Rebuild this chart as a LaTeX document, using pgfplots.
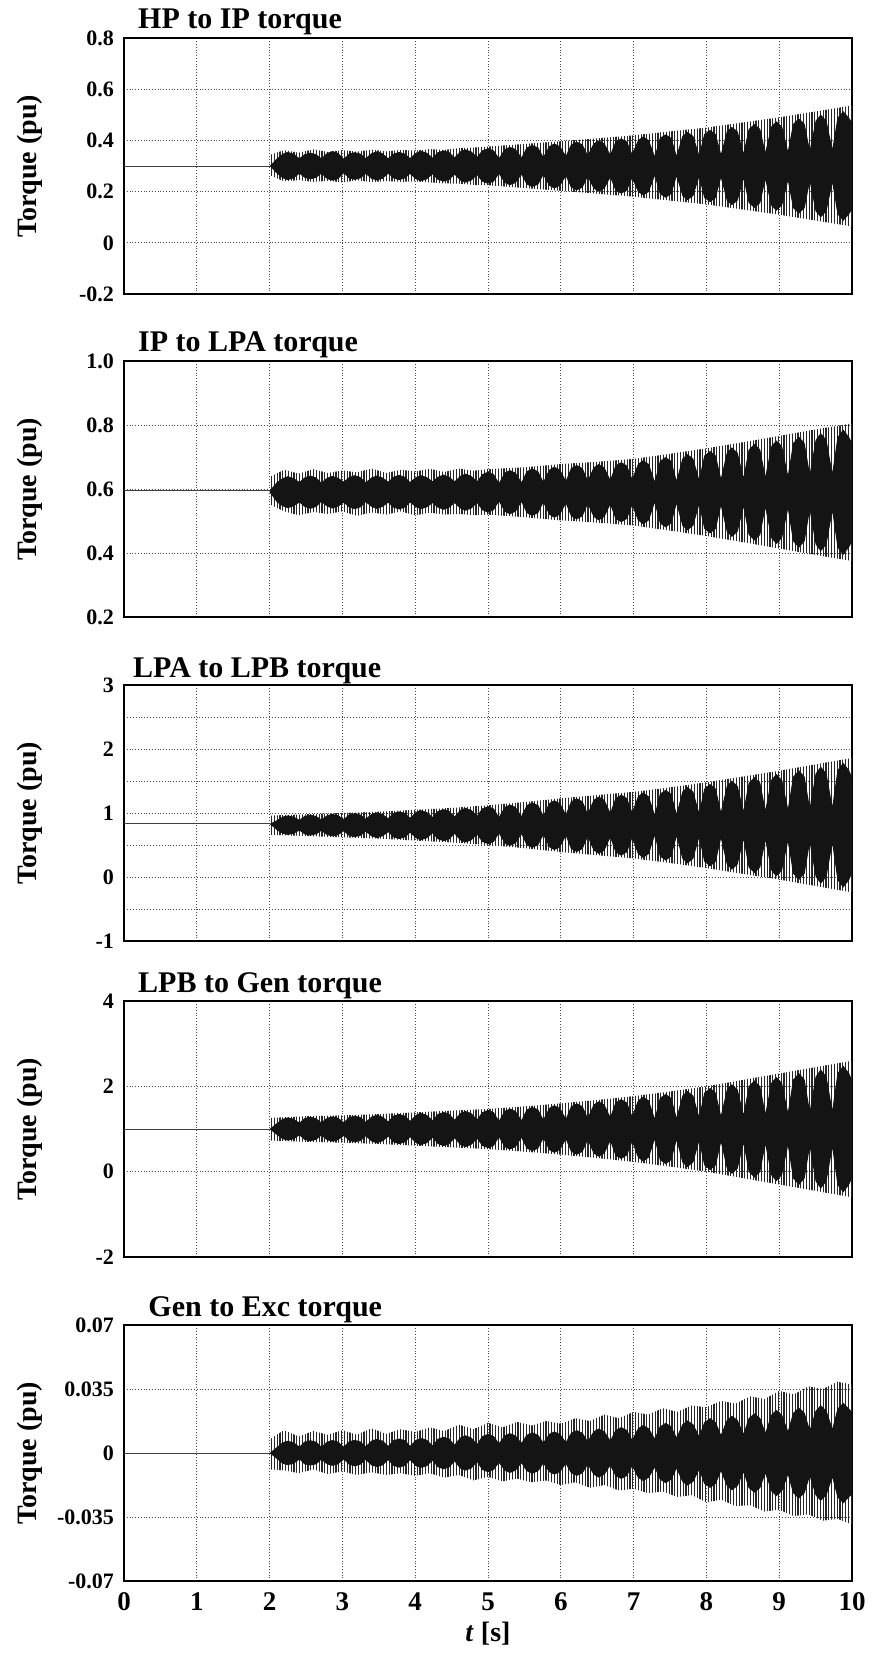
\documentclass[border=0pt]{standalone}
\usepackage{fontspec}
\setmainfont{Liberation Serif}
\usepackage{pgfplots}
\usepackage{pgfplotstable}
\pgfplotsset{compat=1.18}
\usepgfplotslibrary{fillbetween}
\usetikzlibrary{patterns.meta}

% envelope (u = upper, l = lower) and beat lobes of each torque trace
\pgfplotstableread{
t u l
2.00 0.300 0.300
2.02 0.345 0.262
2.20 0.362 0.240
2.40 0.352 0.245
2.60 0.365 0.238
2.80 0.355 0.242
3.00 0.362 0.236
3.20 0.356 0.244
3.40 0.364 0.237
3.60 0.357 0.241
3.80 0.363 0.238
4.00 0.360 0.240
4.20 0.366 0.236
4.40 0.363 0.232
4.60 0.370 0.231
4.80 0.372 0.226
5.00 0.376 0.225
5.50 0.386 0.214
6.00 0.397 0.203
6.50 0.408 0.192
7.00 0.420 0.180
7.50 0.435 0.165
8.00 0.450 0.150
8.50 0.470 0.130
9.00 0.490 0.110
9.50 0.513 0.087
10.00 0.536 0.064
}\envA
\pgfplotstableread{
t u l
2.00 0.300 0.300
2.10 0.329 0.271
2.18 0.348 0.252
2.25 0.355 0.245
2.33 0.348 0.252
2.41 0.330 0.270
2.48 0.346 0.254
2.56 0.352 0.248
2.64 0.346 0.254
2.71 0.330 0.270
2.79 0.351 0.249
2.86 0.358 0.243
2.94 0.351 0.249
3.02 0.328 0.272
3.09 0.348 0.252
3.17 0.354 0.246
3.25 0.348 0.252
3.32 0.331 0.269
3.40 0.350 0.250
3.47 0.357 0.244
3.55 0.350 0.250
3.63 0.330 0.270
3.70 0.348 0.252
3.78 0.355 0.245
3.86 0.348 0.252
3.93 0.331 0.269
4.01 0.352 0.248
4.08 0.359 0.241
4.16 0.352 0.248
4.24 0.332 0.268
4.31 0.354 0.246
4.39 0.361 0.239
4.47 0.354 0.246
4.54 0.334 0.266
4.62 0.357 0.243
4.69 0.365 0.235
4.77 0.357 0.243
4.85 0.336 0.264
4.92 0.361 0.239
5.00 0.369 0.231
5.08 0.361 0.239
5.15 0.331 0.269
5.23 0.366 0.234
5.30 0.375 0.225
5.38 0.366 0.234
5.46 0.334 0.266
5.53 0.372 0.228
5.61 0.382 0.218
5.69 0.372 0.228
5.76 0.336 0.264
5.84 0.377 0.223
5.91 0.388 0.212
5.99 0.377 0.223
6.07 0.340 0.260
6.14 0.384 0.216
6.22 0.395 0.205
6.30 0.384 0.216
6.37 0.342 0.258
6.45 0.388 0.212
6.52 0.400 0.200
6.60 0.388 0.212
6.68 0.345 0.255
6.75 0.395 0.205
6.83 0.408 0.192
6.91 0.395 0.205
6.98 0.348 0.252
7.06 0.401 0.199
7.13 0.415 0.185
7.21 0.401 0.199
7.29 0.339 0.261
7.36 0.409 0.191
7.44 0.424 0.176
7.52 0.409 0.191
7.59 0.341 0.259
7.67 0.417 0.183
7.74 0.433 0.167
7.82 0.417 0.183
7.90 0.344 0.256
7.97 0.424 0.176
8.05 0.441 0.159
8.13 0.424 0.176
8.20 0.347 0.253
8.28 0.435 0.165
8.35 0.453 0.147
8.43 0.435 0.165
8.51 0.351 0.249
8.58 0.444 0.156
8.66 0.464 0.136
8.74 0.444 0.156
8.81 0.355 0.245
8.89 0.454 0.146
8.96 0.475 0.125
9.04 0.454 0.146
9.12 0.359 0.241
9.19 0.464 0.136
9.27 0.486 0.114
9.35 0.464 0.136
9.42 0.363 0.237
9.50 0.477 0.123
9.57 0.501 0.099
9.65 0.477 0.123
9.73 0.367 0.233
9.80 0.488 0.112
9.88 0.514 0.086
9.96 0.488 0.112
10.00 0.470 0.130
}\lobA

\pgfplotstableread{
t u l
2.00 0.595 0.590
2.02 0.640 0.550
2.20 0.660 0.530
2.40 0.648 0.518
2.60 0.662 0.528
2.80 0.650 0.522
3.00 0.658 0.530
3.20 0.652 0.516
3.40 0.664 0.527
3.60 0.650 0.520
3.80 0.660 0.530
4.00 0.655 0.518
4.20 0.663 0.526
4.40 0.653 0.520
4.60 0.664 0.522
4.80 0.657 0.518
5.00 0.662 0.520
5.50 0.668 0.512
6.00 0.678 0.502
6.50 0.685 0.495
7.00 0.694 0.486
7.50 0.710 0.470
8.00 0.727 0.453
8.50 0.746 0.434
9.00 0.766 0.414
9.50 0.786 0.394
10.00 0.805 0.375
}\envB
\pgfplotstableread{
t u l
2.00 0.595 0.590
2.10 0.621 0.559
2.18 0.634 0.546
2.25 0.640 0.540
2.33 0.634 0.546
2.41 0.622 0.558
2.48 0.636 0.544
2.56 0.642 0.538
2.64 0.636 0.544
2.71 0.620 0.560
2.79 0.635 0.545
2.86 0.641 0.539
2.94 0.635 0.545
3.02 0.623 0.557
3.09 0.637 0.543
3.17 0.643 0.537
3.25 0.637 0.543
3.32 0.621 0.559
3.40 0.636 0.544
3.47 0.642 0.538
3.55 0.636 0.544
3.63 0.623 0.557
3.70 0.638 0.542
3.78 0.644 0.536
3.86 0.638 0.542
3.93 0.622 0.558
4.01 0.637 0.543
4.08 0.643 0.537
4.16 0.637 0.543
4.24 0.624 0.556
4.31 0.638 0.542
4.39 0.645 0.535
4.47 0.638 0.542
4.54 0.624 0.556
4.62 0.641 0.539
4.69 0.648 0.532
4.77 0.641 0.539
4.85 0.624 0.556
4.92 0.646 0.534
5.00 0.654 0.526
5.08 0.646 0.534
5.15 0.619 0.561
5.23 0.651 0.529
5.30 0.659 0.521
5.38 0.651 0.529
5.46 0.621 0.559
5.53 0.655 0.525
5.61 0.664 0.516
5.69 0.655 0.525
5.76 0.623 0.557
5.84 0.660 0.520
5.91 0.670 0.510
5.99 0.660 0.520
6.07 0.626 0.554
6.14 0.665 0.515
6.22 0.675 0.505
6.30 0.665 0.515
6.37 0.627 0.553
6.45 0.667 0.513
6.52 0.678 0.502
6.60 0.667 0.513
6.68 0.629 0.551
6.75 0.673 0.507
6.83 0.684 0.496
6.91 0.673 0.507
6.98 0.632 0.548
7.06 0.678 0.502
7.13 0.690 0.490
7.21 0.678 0.502
7.29 0.624 0.556
7.36 0.687 0.493
7.44 0.700 0.480
7.52 0.687 0.493
7.59 0.627 0.553
7.67 0.695 0.485
7.74 0.709 0.471
7.82 0.695 0.485
7.90 0.630 0.550
7.97 0.704 0.476
8.05 0.719 0.461
8.13 0.704 0.476
8.20 0.634 0.546
8.28 0.713 0.467
8.35 0.730 0.450
8.43 0.713 0.467
8.51 0.637 0.543
8.58 0.723 0.457
8.66 0.741 0.439
8.74 0.723 0.457
8.81 0.640 0.540
8.89 0.733 0.447
8.96 0.752 0.428
9.04 0.733 0.447
9.12 0.644 0.536
9.19 0.743 0.437
9.27 0.764 0.416
9.35 0.743 0.437
9.42 0.648 0.532
9.50 0.753 0.427
9.57 0.775 0.405
9.65 0.753 0.427
9.73 0.652 0.528
9.80 0.762 0.418
9.88 0.786 0.394
9.96 0.762 0.418
10.00 0.745 0.435
}\lobB

\pgfplotstableread{
t u l
2.00 0.830 0.830
2.02 0.960 0.660
2.50 0.980 0.640
3.00 1.000 0.620
3.50 1.020 0.600
4.00 1.050 0.570
4.50 1.080 0.540
5.00 1.120 0.500
5.50 1.170 0.450
6.00 1.230 0.390
6.50 1.280 0.340
7.00 1.330 0.290
7.50 1.400 0.220
8.00 1.480 0.140
8.50 1.570 0.050
9.00 1.660 -0.040
9.50 1.760 -0.140
10.00 1.860 -0.240
}\envC
\pgfplotstableread{
t u l
2.00 0.830 0.830
2.10 0.887 0.733
2.18 0.944 0.676
2.25 0.962 0.658
2.33 0.944 0.676
2.41 0.893 0.727
2.48 0.953 0.667
2.56 0.973 0.647
2.64 0.953 0.667
2.71 0.899 0.721
2.79 0.964 0.656
2.86 0.985 0.635
2.94 0.964 0.656
3.02 0.906 0.714
3.09 0.975 0.645
3.17 0.997 0.623
3.25 0.975 0.645
3.32 0.912 0.708
3.40 0.985 0.635
3.47 1.009 0.611
3.55 0.985 0.635
3.63 0.919 0.701
3.70 1.000 0.620
3.78 1.026 0.594
3.86 1.000 0.620
3.93 0.928 0.692
4.01 1.015 0.605
4.08 1.043 0.577
4.16 1.015 0.605
4.24 0.937 0.683
4.31 1.030 0.590
4.39 1.060 0.560
4.47 1.030 0.590
4.54 0.947 0.673
4.62 1.048 0.572
4.69 1.081 0.539
4.77 1.048 0.572
4.85 0.959 0.661
4.92 1.070 0.550
5.00 1.105 0.515
5.08 1.070 0.550
5.15 0.940 0.680
5.23 1.094 0.526
5.30 1.133 0.487
5.38 1.094 0.526
5.46 0.952 0.668
5.53 1.122 0.498
5.61 1.164 0.456
5.69 1.122 0.498
5.76 0.966 0.654
5.84 1.152 0.468
5.91 1.199 0.421
5.99 1.152 0.468
6.07 0.981 0.639
6.14 1.180 0.440
6.22 1.230 0.390
6.30 1.180 0.440
6.37 0.993 0.627
6.45 1.204 0.416
6.52 1.258 0.362
6.60 1.204 0.416
6.68 1.005 0.615
6.75 1.231 0.389
6.83 1.288 0.332
6.91 1.231 0.389
6.98 1.017 0.603
7.06 1.260 0.360
7.13 1.321 0.299
7.21 1.260 0.360
7.29 0.978 0.642
7.36 1.297 0.323
7.44 1.363 0.257
7.52 1.297 0.323
7.59 0.991 0.629
7.67 1.335 0.285
7.74 1.407 0.213
7.82 1.335 0.285
7.90 1.006 0.614
7.97 1.378 0.242
8.05 1.455 0.165
8.13 1.378 0.242
8.20 1.022 0.598
8.28 1.422 0.198
8.35 1.506 0.114
8.43 1.422 0.198
8.51 1.039 0.581
8.58 1.470 0.150
8.66 1.560 0.060
8.74 1.470 0.150
8.81 1.055 0.565
8.89 1.515 0.105
8.96 1.611 0.009
9.04 1.515 0.105
9.12 1.072 0.548
9.19 1.566 0.054
9.27 1.669 -0.049
9.35 1.566 0.054
9.42 1.090 0.530
9.50 1.616 0.004
9.57 1.726 -0.106
9.65 1.616 0.004
9.73 1.109 0.511
9.80 1.668 -0.048
9.88 1.785 -0.165
9.96 1.668 -0.048
10.00 1.560 0.060
}\lobC

\pgfplotstableread{
t u l
2.00 1.000 1.000
2.02 1.260 0.730
2.50 1.300 0.700
3.00 1.320 0.680
3.50 1.350 0.650
4.00 1.390 0.610
4.50 1.430 0.570
5.00 1.470 0.530
5.50 1.530 0.470
6.00 1.600 0.400
6.50 1.680 0.320
7.00 1.770 0.230
7.50 1.880 0.120
8.00 2.000 0.000
8.50 2.150 -0.150
9.00 2.300 -0.300
9.50 2.450 -0.450
10.00 2.600 -0.600
}\envD
\pgfplotstableread{
t u l
2.00 1.000 1.000
2.10 1.138 0.862
2.18 1.238 0.762
2.25 1.271 0.729
2.33 1.238 0.762
2.41 1.148 0.852
2.48 1.253 0.747
2.56 1.287 0.713
2.64 1.253 0.747
2.71 1.154 0.846
2.79 1.262 0.738
2.86 1.298 0.702
2.94 1.262 0.738
3.02 1.161 0.839
3.09 1.276 0.724
3.17 1.314 0.686
3.25 1.276 0.724
3.32 1.170 0.830
3.40 1.291 0.709
3.47 1.331 0.669
3.55 1.291 0.709
3.63 1.180 0.820
3.70 1.311 0.689
3.78 1.353 0.647
3.86 1.311 0.689
3.93 1.192 0.808
4.01 1.331 0.669
4.08 1.376 0.624
4.16 1.331 0.669
4.24 1.205 0.795
4.31 1.352 0.648
4.39 1.400 0.600
4.47 1.352 0.648
4.54 1.217 0.783
4.62 1.372 0.628
4.69 1.423 0.577
4.77 1.372 0.628
4.85 1.229 0.771
4.92 1.393 0.607
5.00 1.447 0.553
5.08 1.393 0.607
5.15 1.195 0.805
5.23 1.423 0.577
5.30 1.481 0.519
5.38 1.423 0.577
5.46 1.210 0.790
5.53 1.456 0.544
5.61 1.518 0.482
5.69 1.456 0.544
5.76 1.226 0.774
5.84 1.491 0.509
5.91 1.558 0.442
5.99 1.491 0.509
6.07 1.244 0.756
6.14 1.531 0.469
6.22 1.603 0.397
6.30 1.531 0.469
6.37 1.264 0.736
6.45 1.571 0.429
6.52 1.649 0.351
6.60 1.571 0.429
6.68 1.285 0.715
6.75 1.618 0.382
6.83 1.702 0.298
6.91 1.618 0.382
6.98 1.306 0.694
7.06 1.668 0.332
7.13 1.759 0.241
7.21 1.668 0.332
7.29 1.250 0.750
7.36 1.725 0.275
7.44 1.824 0.176
7.52 1.725 0.275
7.59 1.270 0.730
7.67 1.784 0.216
7.74 1.891 0.109
7.82 1.784 0.216
7.90 1.293 0.707
7.97 1.848 0.152
8.05 1.964 0.036
8.13 1.848 0.152
8.20 1.318 0.682
8.28 1.924 0.076
8.35 2.050 -0.050
8.43 1.924 0.076
8.51 1.346 0.654
8.58 2.001 -0.001
8.66 2.138 -0.138
8.74 2.001 -0.001
8.81 1.373 0.627
8.89 2.077 -0.077
8.96 2.224 -0.224
9.04 2.077 -0.077
9.12 1.401 0.599
9.19 2.155 -0.155
9.27 2.312 -0.312
9.35 2.155 -0.155
9.42 1.428 0.572
9.50 2.229 -0.229
9.57 2.397 -0.397
9.65 2.229 -0.229
9.73 1.456 0.544
9.80 2.308 -0.308
9.88 2.486 -0.486
9.96 2.308 -0.308
10.00 2.150 -0.150
}\lobD

\pgfplotstableread{
t u l
2.00 0.0000 0.0000
2.02 0.0080 -0.0090
2.20 0.0125 -0.0095
2.40 0.0090 -0.0110
2.60 0.0120 -0.0090
2.80 0.0100 -0.0115
3.00 0.0125 -0.0100
3.20 0.0100 -0.0120
3.40 0.0135 -0.0105
3.60 0.0105 -0.0120
3.80 0.0130 -0.0110
4.00 0.0115 -0.0125
4.20 0.0140 -0.0110
4.40 0.0120 -0.0135
4.60 0.0155 -0.0120
4.80 0.0130 -0.0150
5.00 0.0165 -0.0130
5.20 0.0140 -0.0155
5.40 0.0170 -0.0140
5.60 0.0150 -0.0160
5.80 0.0175 -0.0150
6.00 0.0160 -0.0175
6.20 0.0190 -0.0160
6.40 0.0175 -0.0190
6.60 0.0210 -0.0175
6.80 0.0190 -0.0205
7.00 0.0225 -0.0195
7.20 0.0210 -0.0220
7.40 0.0245 -0.0210
7.60 0.0225 -0.0240
7.80 0.0260 -0.0230
8.00 0.0250 -0.0270
8.20 0.0285 -0.0255
8.40 0.0270 -0.0290
8.60 0.0310 -0.0285
8.80 0.0295 -0.0320
9.00 0.0340 -0.0310
9.20 0.0320 -0.0345
9.40 0.0365 -0.0335
9.60 0.0350 -0.0370
9.80 0.0390 -0.0360
10.00 0.0375 -0.0390
}\envE
\pgfplotstableread{
t u l
2.00 0.0000 0.0000
2.10 0.0032 -0.0032
2.18 0.0059 -0.0059
2.25 0.0067 -0.0066
2.33 0.0059 -0.0059
2.41 0.0035 -0.0035
2.48 0.0062 -0.0062
2.56 0.0070 -0.0068
2.64 0.0062 -0.0062
2.71 0.0035 -0.0036
2.79 0.0062 -0.0062
2.86 0.0071 -0.0070
2.94 0.0062 -0.0062
3.02 0.0035 -0.0035
3.09 0.0063 -0.0063
3.17 0.0072 -0.0073
3.25 0.0063 -0.0063
3.32 0.0037 -0.0037
3.40 0.0068 -0.0068
3.47 0.0077 -0.0076
3.55 0.0068 -0.0068
3.63 0.0039 -0.0039
3.70 0.0070 -0.0070
3.78 0.0079 -0.0080
3.86 0.0070 -0.0070
3.93 0.0040 -0.0040
4.01 0.0072 -0.0072
4.08 0.0082 -0.0081
4.16 0.0072 -0.0072
4.24 0.0042 -0.0042
4.31 0.0078 -0.0078
4.39 0.0089 -0.0089
4.47 0.0078 -0.0078
4.54 0.0046 -0.0046
4.62 0.0085 -0.0085
4.69 0.0097 -0.0096
4.77 0.0085 -0.0085
4.85 0.0050 -0.0050
4.92 0.0092 -0.0092
5.00 0.0105 -0.0105
5.08 0.0092 -0.0092
5.15 0.0054 -0.0054
5.23 0.0096 -0.0096
5.30 0.0109 -0.0109
5.38 0.0096 -0.0096
5.46 0.0056 -0.0056
5.53 0.0099 -0.0099
5.61 0.0113 -0.0113
5.69 0.0099 -0.0099
5.76 0.0058 -0.0058
5.84 0.0104 -0.0104
5.91 0.0118 -0.0118
5.99 0.0104 -0.0104
6.07 0.0060 -0.0060
6.14 0.0110 -0.0110
6.22 0.0125 -0.0125
6.30 0.0110 -0.0110
6.37 0.0065 -0.0065
6.45 0.0118 -0.0118
6.52 0.0134 -0.0134
6.60 0.0118 -0.0118
6.68 0.0069 -0.0069
6.75 0.0125 -0.0125
6.83 0.0142 -0.0142
6.91 0.0125 -0.0125
6.98 0.0073 -0.0073
7.06 0.0135 -0.0135
7.13 0.0153 -0.0153
7.21 0.0135 -0.0135
7.29 0.0080 -0.0080
7.36 0.0145 -0.0145
7.44 0.0165 -0.0165
7.52 0.0145 -0.0145
7.59 0.0086 -0.0086
7.67 0.0157 -0.0157
7.74 0.0178 -0.0178
7.82 0.0157 -0.0157
7.90 0.0093 -0.0093
7.97 0.0168 -0.0168
8.05 0.0191 -0.0191
8.13 0.0168 -0.0168
8.20 0.0100 -0.0100
8.28 0.0180 -0.0180
8.35 0.0204 -0.0204
8.43 0.0180 -0.0180
8.51 0.0106 -0.0106
8.58 0.0191 -0.0191
8.66 0.0217 -0.0217
8.74 0.0191 -0.0191
8.81 0.0113 -0.0113
8.89 0.0208 -0.0208
8.96 0.0236 -0.0236
9.04 0.0208 -0.0208
9.12 0.0121 -0.0121
9.19 0.0219 -0.0219
9.27 0.0249 -0.0249
9.35 0.0219 -0.0219
9.42 0.0128 -0.0128
9.50 0.0231 -0.0231
9.57 0.0262 -0.0262
9.65 0.0231 -0.0231
9.73 0.0135 -0.0135
9.80 0.0242 -0.0242
9.88 0.0275 -0.0275
9.96 0.0242 -0.0242
10.00 0.0225 -0.0225
}\lobE

\pgfplotsset{
  panel/.style={
    scale only axis, width=364pt, height=128pt, anchor=north west,
    xmin=0, xmax=10, xtick={0,1,...,10},
    scaled y ticks=false,
    grid=major, grid style={densely dotted, black!70, line width=0.45pt},
    minor grid style={densely dotted, black!70, line width=0.45pt},
    major tick length=0pt, minor tick length=0pt,
    axis line style={line width=0.8pt},
    /pgf/number format/assume math mode=true,
    yticklabel style={font=\bfseries\fontsize{11}{12}\selectfont, xshift=-1.5pt},
    xticklabel style={font=\bfseries\fontsize{13.5}{15}\selectfont, inner sep=1pt,
      yshift=-4.5pt},
    ylabel={Torque (pu)},
    ylabel style={at={(axis description cs:-0.129,0.5)}, anchor=center,
      font=\bfseries\fontsize{14}{16}\selectfont},
    title style={at={(axis description cs:0.019,1)}, anchor=base west, yshift=-1.5pt,
      inner sep=0pt, font=\bfseries\fontsize{15}{17}\selectfont},
  },
  hatch/.style={draw=none, pattern={Lines[angle=90,distance=1.4pt,line width=0.55pt]},
    pattern color=black!85},
  lobe/.style={draw=none, fill=black!92},
  steady/.style={black!75, line width=0.5pt},
}

\begin{document}
\begin{tikzpicture}
% page frame of the reference (873 x 1653 px at 0.5 pt per px)
\path (0,0) rectangle (436.5pt,-826.5pt);

\begin{axis}[panel, at={(62pt,-19pt)}, title={HP to IP torque},
  ymin=-0.2, ymax=0.8, ytick={-0.2,0,0.2,0.4,0.6,0.8},
  yticklabels={-0.2,0,0.2,0.4,0.6,0.8}, xticklabels={}]
\addplot[draw=none, name path=eAu] table[x=t, y=u]{\envA};
\addplot[draw=none, name path=eAl] table[x=t, y=l]{\envA};
\addplot[hatch] fill between[of=eAu and eAl];
\addplot[draw=none, name path=oAu] table[x=t, y=u]{\lobA};
\addplot[draw=none, name path=oAl] table[x=t, y=l]{\lobA};
\addplot[lobe] fill between[of=oAu and oAl];
\addplot[steady] coordinates {(0,0.300) (2.0,0.300)};
\end{axis}

\begin{axis}[panel, at={(62pt,-180.5pt)}, title={IP to LPA torque},
  title style={yshift=0.5pt},
  ymin=0.2, ymax=1.0, ytick={0.2,0.4,0.6,0.8,1.0},
  yticklabels={0.2,0.4,0.6,0.8,1.0}, xticklabels={}]
\addplot[draw=none, name path=eBu] table[x=t, y=u]{\envB};
\addplot[draw=none, name path=eBl] table[x=t, y=l]{\envB};
\addplot[hatch] fill between[of=eBu and eBl];
\addplot[draw=none, name path=oBu] table[x=t, y=u]{\lobB};
\addplot[draw=none, name path=oBl] table[x=t, y=l]{\lobB};
\addplot[lobe] fill between[of=oBu and oBl];
\addplot[steady] coordinates {(0,0.595) (2.0,0.595)};
\end{axis}

\begin{axis}[panel, at={(62pt,-342.5pt)}, title={LPA to LPB torque},
  title style={at={(axis description cs:0.012,1)}, yshift=-0.5pt},
  ymin=-1, ymax=3, ytick={-1,0,1,2,3}, minor ytick={-0.5,0.5,1.5,2.5}, grid=both,
  yticklabels={-1,0,1,2,3}, xticklabels={}]
\addplot[draw=none, name path=eCu] table[x=t, y=u]{\envC};
\addplot[draw=none, name path=eCl] table[x=t, y=l]{\envC};
\addplot[hatch] fill between[of=eCu and eCl];
\addplot[draw=none, name path=oCu] table[x=t, y=u]{\lobC};
\addplot[draw=none, name path=oCl] table[x=t, y=l]{\lobC};
\addplot[lobe] fill between[of=oCu and oCl];
\addplot[steady] coordinates {(0,0.830) (2.0,0.830)};
\end{axis}

\begin{axis}[panel, at={(62pt,-500.5pt)}, title={LPB to Gen torque},
  ymin=-2, ymax=4, ytick={-2,0,2,4},
  yticklabels={-2,0,2,4}, xticklabels={}]
\addplot[draw=none, name path=eDu] table[x=t, y=u]{\envD};
\addplot[draw=none, name path=eDl] table[x=t, y=l]{\envD};
\addplot[hatch] fill between[of=eDu and eDl];
\addplot[draw=none, name path=oDu] table[x=t, y=u]{\lobD};
\addplot[draw=none, name path=oDl] table[x=t, y=l]{\lobD};
\addplot[lobe] fill between[of=oDu and oDl];
\addplot[steady] coordinates {(0,1.000) (2.0,1.000)};
\end{axis}

\begin{axis}[panel, at={(62pt,-662.5pt)}, title={Gen to Exc torque},
  title style={at={(axis description cs:0.033,1)}, yshift=0pt},
  ymin=-0.07, ymax=0.07, ytick={-0.07,-0.035,0,0.035,0.07},
  yticklabels={-0.07,-0.035,0,0.035,0.07},
  xlabel={\textit{t} [s]},
  xlabel style={at={(axis description cs:0.5,0)}, anchor=base, yshift=-30pt,
    inner sep=0pt, font=\bfseries\fontsize{14}{16}\selectfont}]
\addplot[draw=none, name path=eEu] table[x=t, y=u]{\envE};
\addplot[draw=none, name path=eEl] table[x=t, y=l]{\envE};
\addplot[hatch] fill between[of=eEu and eEl];
\addplot[draw=none, name path=oEu] table[x=t, y=u]{\lobE};
\addplot[draw=none, name path=oEl] table[x=t, y=l]{\lobE};
\addplot[lobe] fill between[of=oEu and oEl];
\addplot[steady] coordinates {(0,0) (2.0,0)};
\end{axis}
\end{tikzpicture}
\end{document}
